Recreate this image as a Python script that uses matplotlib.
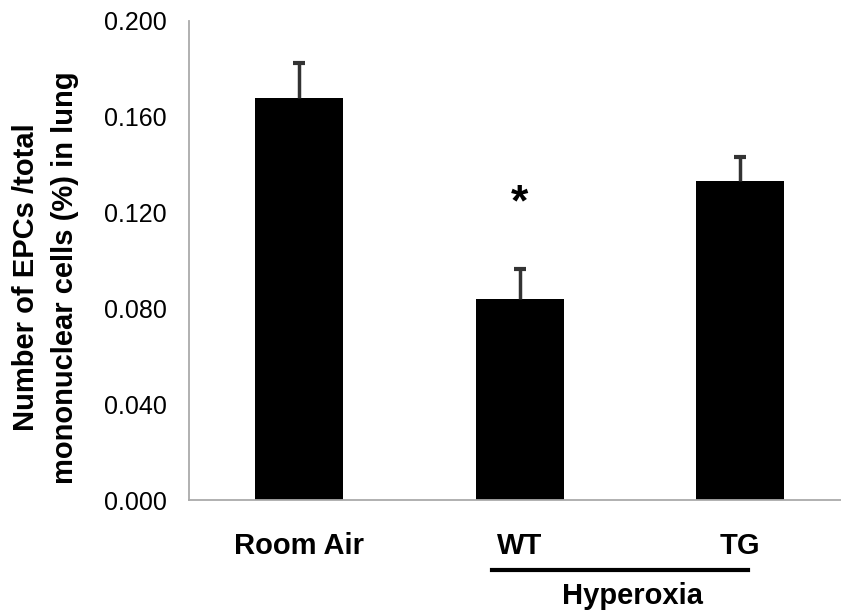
import numpy as np
import matplotlib.pyplot as plt

groups = ['Room Air', 'WT', 'TG']
values = [0.168, 0.084, 0.133]
errors = [0.0145, 0.0125, 0.0103]
yticks = [0.000, 0.040, 0.080, 0.120, 0.160, 0.200]

plt.rcParams['font.family'] = ['Liberation Sans', 'DejaVu Sans']

fig = plt.figure(figsize=(8.41, 6.13), dpi=100)
ax = fig.add_axes([189 / 841, 1 - 500 / 613, 652 / 841, 479 / 613])

x = np.arange(len(groups))
ax.bar(x, values, width=0.4, color='black', zorder=2)
eb = ax.errorbar(x, values, yerr=[np.zeros(3), errors], fmt='none', ecolor='#333333',
                 elinewidth=2.5, capsize=4, capthick=3, zorder=3)
# only keep the upper caps
eb.lines[1][0].set_visible(False)

ax.set_xlim(-0.5, 652 / 220.5 - 0.5)
ax.set_ylim(0, 0.2)
ax.set_yticks(yticks)
ax.set_yticklabels(['%.3f' % v for v in yticks], fontsize=18)
ax.set_xticks(x)
ax.set_xticklabels(groups, fontsize=21, fontweight='bold')
ax.tick_params(axis='y', length=0, pad=16)
ax.tick_params(axis='x', length=0, pad=23)

for s in ['top', 'right']:
    ax.spines[s].set_visible(False)
for s in ['left', 'bottom']:
    ax.spines[s].set_color('#aaaaaa')
    ax.spines[s].set_linewidth(1.3)

ax.set_ylabel('Number of EPCs /total\nmononuclear cells (%) in lung',
              fontsize=21, fontweight='bold', linespacing=1.5)
ax.yaxis.set_label_coords(-0.168, 0.465)

# significance mark
ax.text(1, 0.1235, '*', ha='center', va='center', fontsize=32, fontweight='bold')

# Hyperoxia bracket
fig.add_artist(plt.Line2D([492 / 841, 748 / 841], [1 - 570 / 613, 1 - 570 / 613],
                          color='black', linewidth=3))
fig.text(632 / 841, 1 - 596 / 613, 'Hyperoxia', ha='center', va='center',
         fontsize=21, fontweight='bold')

fig.savefig('out.png', dpi=100)
